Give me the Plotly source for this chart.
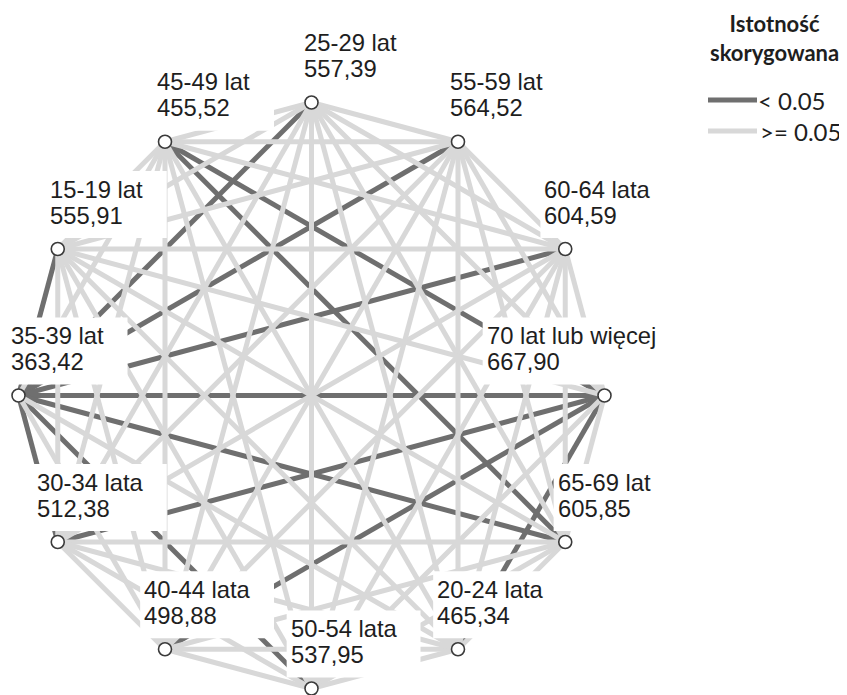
import math
import plotly.graph_objects as go

# ---------------- data ----------------
groups = ["25-29 lat", "55-59 lat", "60-64 lata", "70 lat lub więcej",
          "65-69 lat", "20-24 lata", "50-54 lata", "40-44 lata",
          "30-34 lata", "35-39 lat", "15-19 lat", "45-49 lat"]
mean_ranks = [557.39, 564.52, 604.59, 667.90,
              605.85, 465.34, 537.95, 498.88,
              512.38, 363.42, 555.91, 455.52]
significant_pairs = [
    ("35-39 lat", "70 lat lub więcej"),
    ("35-39 lat", "15-19 lat"),
    ("35-39 lat", "25-29 lat"),
    ("35-39 lat", "55-59 lat"),
    ("35-39 lat", "60-64 lata"),
    ("35-39 lat", "65-69 lat"),
    ("35-39 lat", "50-54 lata"),
    ("35-39 lat", "30-34 lata"),
    ("45-49 lat", "70 lat lub więcej"),
    ("45-49 lat", "65-69 lat"),
    ("30-34 lata", "70 lat lub więcej"),
    ("40-44 lata", "70 lat lub więcej"),
    ("20-24 lata", "70 lat lub więcej"),
]
legend_labels = ["< 0.05", ">= 0.05"]
legend_title = ["Istotność", "skorygowana"]

# ---------------- styling / layout ----------------
PAGE_W, PAGE_H = 847, 695
OFF = 8                    # default body margin of the html page
W, H = PAGE_W - OFF, PAGE_H - OFF
R = 293.0                  # px radius of node circle
CX, CY = 311.5, 395.5      # px centre (page pixels)
DARK = "#6f6f6f"
LIGHT = "#d8d8d8"
TEXT = "#1e1e1e"
LSIZE = 23.8
LABEL_FONT = dict(family="Liberation Sans, Arial, sans-serif", size=LSIZE, color=TEXT)

def dx(px):  # page pixel -> data x
    return (px - CX) / R
def dy(py):  # page pixel -> data y
    return (CY - py) / R

n = len(groups)
ang = [math.radians(90 - 30 * i) for i in range(n)]
xs = [math.cos(a) for a in ang]
ys = [math.sin(a) for a in ang]
idx = {g: i for i, g in enumerate(groups)}
sig = set(frozenset((idx[a], idx[b])) for a, b in significant_pairs)

dark_x, dark_y, light_x, light_y = [], [], [], []
for i in range(n):
    for j in range(i + 1, n):
        if frozenset((i, j)) in sig:
            dark_x += [xs[i], xs[j], None]
            dark_y += [ys[i], ys[j], None]
        else:
            light_x += [xs[i], xs[j], None]
            light_y += [ys[i], ys[j], None]

fig = go.Figure()
fig.add_trace(go.Scatter(x=dark_x, y=dark_y, mode="lines",
                         line=dict(color=DARK, width=5), hoverinfo="skip",
                         showlegend=False, name=legend_labels[0]))
fig.add_trace(go.Scatter(x=light_x, y=light_y, mode="lines",
                         line=dict(color=LIGHT, width=5), hoverinfo="skip",
                         showlegend=False, name=legend_labels[1]))
fig.add_trace(go.Scatter(x=xs, y=ys, mode="markers",
                         marker=dict(size=13, color="white",
                                     line=dict(color="#3a3a3a", width=1.6)),
                         text=groups, hoverinfo="text", showlegend=False))

# text width estimate (Arial / Liberation Sans metrics)
AW = {'-': 0.333, ' ': 0.278, ',': 0.278, 'l': 0.222, 'a': 0.556, 't': 0.278,
      'u': 0.556, 'b': 0.556, 'w': 0.722, 'i': 0.222, 'ę': 0.556, 'c': 0.5,
      'e': 0.556, 'j': 0.222}
def tw(s, size):
    return sum(AW.get(ch, 0.556) for ch in s) * size

shapes = []
annotations = []
for i in range(n):
    px = CX + R * xs[i]
    py = CY - R * ys[i]
    line1 = groups[i]
    line2 = f"{mean_ranks[i]:.2f}".replace(".", ",")
    wblock = max(tw(line1, LSIZE), tw(line2, LSIZE))
    right = min(px + 86, 657)
    left = right - wblock
    # white label box
    bx0, bx1 = left - 5, right + 23
    by0, by1 = py - 11, py - 78
    shapes.append(dict(type="rect", xref="x", yref="y",
                       x0=dx(bx0), x1=dx(bx1), y0=dy(by0), y1=dy(by1),
                       fillcolor="white", line=dict(width=0), layer="above"))
    for txt, off in ((line1, 60), (line2, 34)):
        annotations.append(dict(x=dx(left - 2), y=dy(py - off),
                                xref="x", yref="y", text=txt, showarrow=False,
                                xanchor="left", yanchor="middle", borderpad=0,
                                font=LABEL_FONT))

# legend (drawn manually to match the original layout)
LEG_FONT = dict(family="Lato, Open Sans, sans-serif", size=24, color=TEXT)
for k, (txt, col, yy) in enumerate(((legend_labels[0], DARK, 100),
                                    (legend_labels[1], LIGHT, 131))):
    shapes.append(dict(type="line", xref="x", yref="y",
                       x0=dx(708), x1=dx(757), y0=dy(yy), y1=dy(yy),
                       line=dict(color=col, width=5), layer="above"))
    annotations.append(dict(x=dx(757 + 2 * k), y=dy(yy), xref="x", yref="y",
                            text=txt, showarrow=False, xanchor="left",
                            yanchor="middle", borderpad=0, font=LEG_FONT))
annotations.append(dict(x=dx(774), y=dy(38), xref="x", yref="y",
                        text="<b>" + "<br>".join(legend_title) + "</b>",
                        showarrow=False, align="center",
                        xanchor="center", yanchor="middle", borderpad=0,
                        font=dict(family="Lato, Open Sans, sans-serif",
                                  size=22, color=TEXT)))

fig.update_layout(
    width=W, height=H, autosize=False,
    margin=dict(l=0, r=0, t=0, b=0),
    paper_bgcolor="white", plot_bgcolor="white",
    xaxis=dict(range=[dx(OFF), dx(PAGE_W)], visible=False, fixedrange=True),
    yaxis=dict(range=[dy(PAGE_H), dy(OFF)], visible=False, fixedrange=True),
    shapes=shapes, annotations=annotations, showlegend=False,
)
fig.write_html("out.html")
